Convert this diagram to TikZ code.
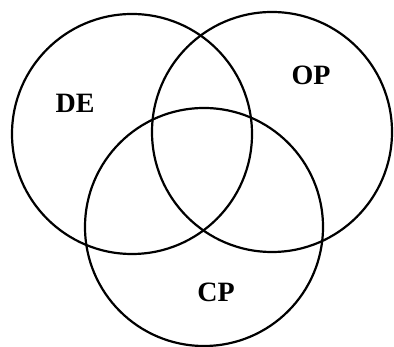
\documentclass[tikz,border=0pt]{standalone}
\usepackage{fontspec}
\setmainfont{Liberation Serif}
\usetikzlibrary{positioning}

\begin{document}
\begin{tikzpicture}[x=1pt,y=-1pt,line cap=round,line join=round,
  setcircle/.style={draw=black,line width=2.2pt},
  setlabel/.style={font=\fontsize{28}{32}\selectfont\bfseries,inner sep=0pt}]
\path[use as bounding box] (0,0) rectangle (394,347);
\draw[setcircle] (132,134) circle[radius=120];
\draw[setcircle] (272,132) circle[radius=120];
\draw[setcircle] (204,227) circle[radius=119];
\node[setlabel] (de) at (75,103) {DE};
\node[setlabel] (op) at (311,75) {OP};
\node[setlabel] (cp) at (216,292) {CP};
\end{tikzpicture}
\end{document}
